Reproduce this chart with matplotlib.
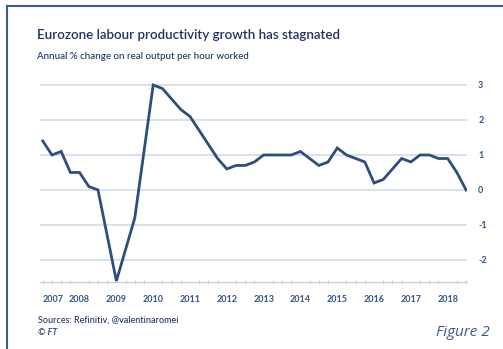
import matplotlib
matplotlib.use("Agg")
import matplotlib.pyplot as plt
from matplotlib.lines import Line2D
from matplotlib.ticker import MultipleLocator

plt.rcParams["axes.unicode_minus"] = False
plt.rcParams["font.family"] = ["Lato", "DejaVu Sans"]

# Quarterly series, starting 2007 Q1
start_year = 2007
growth = [1.4, 1.0, 1.1, 0.5, 0.5, 0.1, 0.0, -1.3,
          -2.6, -1.7, -0.8, 1.1, 3.0, 2.9, 2.6, 2.3,
          2.1, 1.7, 1.3, 0.9, 0.6, 0.7, 0.7, 0.8,
          1.0, 1.0, 1.0, 1.0, 1.1, 0.9, 0.7, 0.8,
          1.2, 1.0, 0.9, 0.8, 0.2, 0.3, 0.6, 0.9,
          0.8, 1.0, 1.0, 0.9, 0.9, 0.5, 0.0]
year_labels = ["2007", "2008", "2009", "2010", "2011", "2012",
               "2013", "2014", "2015", "2016", "2017", "2018"]
y_ticks = [-2, -1, 0, 1, 2, 3]

title = "Eurozone labour productivity growth has stagnated"
subtitle = "Annual % change on real output per hour worked"
source = "Sources: Refinitiv, @valentinaromei"
credit = "\u00a9 FT"
figure_tag = "Figure 2"

navy = "#1d3461"
label_blue = "#34548a"
line_blue = "#2c4f7f"
grid_col = "#dae1ec"

x = [start_year + i / 4 for i in range(len(growth))]

W, H = 503, 349
fig = plt.figure(figsize=(W / 100, H / 100), dpi=100)
fig.patch.set_facecolor("white")

# axes placed in pixel terms
left_px, right_px = 40, 467
bottom_px, top_px = 282, 81.5
ax = fig.add_axes([left_px / W, (H - bottom_px) / H,
                   (right_px - left_px) / W, (bottom_px - top_px) / H])
ax.set_xlim(start_year - 0.075, start_year + 11.525)
ax.set_ylim(-2.63, 3.1)

for v in y_ticks:
    ax.axhline(v, color=grid_col, lw=1.4, zorder=1)

ax.plot(x, growth, color=line_blue, lw=2.0, solid_joinstyle="miter", zorder=3)

for s in ["top", "right", "left"]:
    ax.spines[s].set_visible(False)
ax.spines["bottom"].set_color("#c9d2e0")
ax.spines["bottom"].set_linewidth(1.0)

ax.yaxis.tick_right()
ax.set_yticks(y_ticks)
ax.set_yticklabels([str(v) for v in y_ticks], fontweight="bold")
ax.tick_params(axis="y", length=0, pad=8, labelsize=6.5, labelcolor=label_blue)

year_pos = [start_year + k for k in range(len(year_labels))]
year_pos[0] += 0.29
ax.set_xticks(year_pos)
ax.set_xticklabels(year_labels, fontweight="bold")
ax.tick_params(axis="x", which="major", length=0, pad=9, labelsize=6.5,
               labelcolor=label_blue)
ax.xaxis.set_minor_locator(MultipleLocator(0.25))
ax.tick_params(axis="x", which="minor", length=3.5, width=0.8, direction="inout",
               color="#c9d2e0")

fig.text(37 / W, 1 - 39 / H, title, fontsize=9.6, fontweight="semibold",
         color=navy, ha="left", va="baseline")
fig.text(37 / W, 1 - 59 / H, subtitle, fontsize=7.0, fontweight="medium",
         color=navy, ha="left", va="baseline")
fig.text(38 / W, 1 - 323 / H, source, fontsize=6.5, fontweight="medium",
         color=navy, ha="left", va="baseline")
fig.text(38 / W, 1 - 335 / H, credit, fontsize=6.5, color=navy,
         fontweight="medium", fontstyle="italic", ha="left", va="baseline")
fig.text(490 / W, 1 - 336 / H, figure_tag, fontsize=11, color="#3a5a8c",
         fontstyle="italic", family=["Open Sans", "DejaVu Sans"],
         ha="right", va="baseline")

# frame along the top and left edges
frame_col = "#3c5c8c"
fig.add_artist(Line2D([7 / W, 7 / W], [0, 1 - 6 / H], transform=fig.transFigure,
                      color=frame_col, lw=1.5))
fig.add_artist(Line2D([7 / W, 1], [1 - 6 / H, 1 - 6 / H], transform=fig.transFigure,
                      color=frame_col, lw=1.5))

fig.savefig("out.png", dpi=100, facecolor="white")
